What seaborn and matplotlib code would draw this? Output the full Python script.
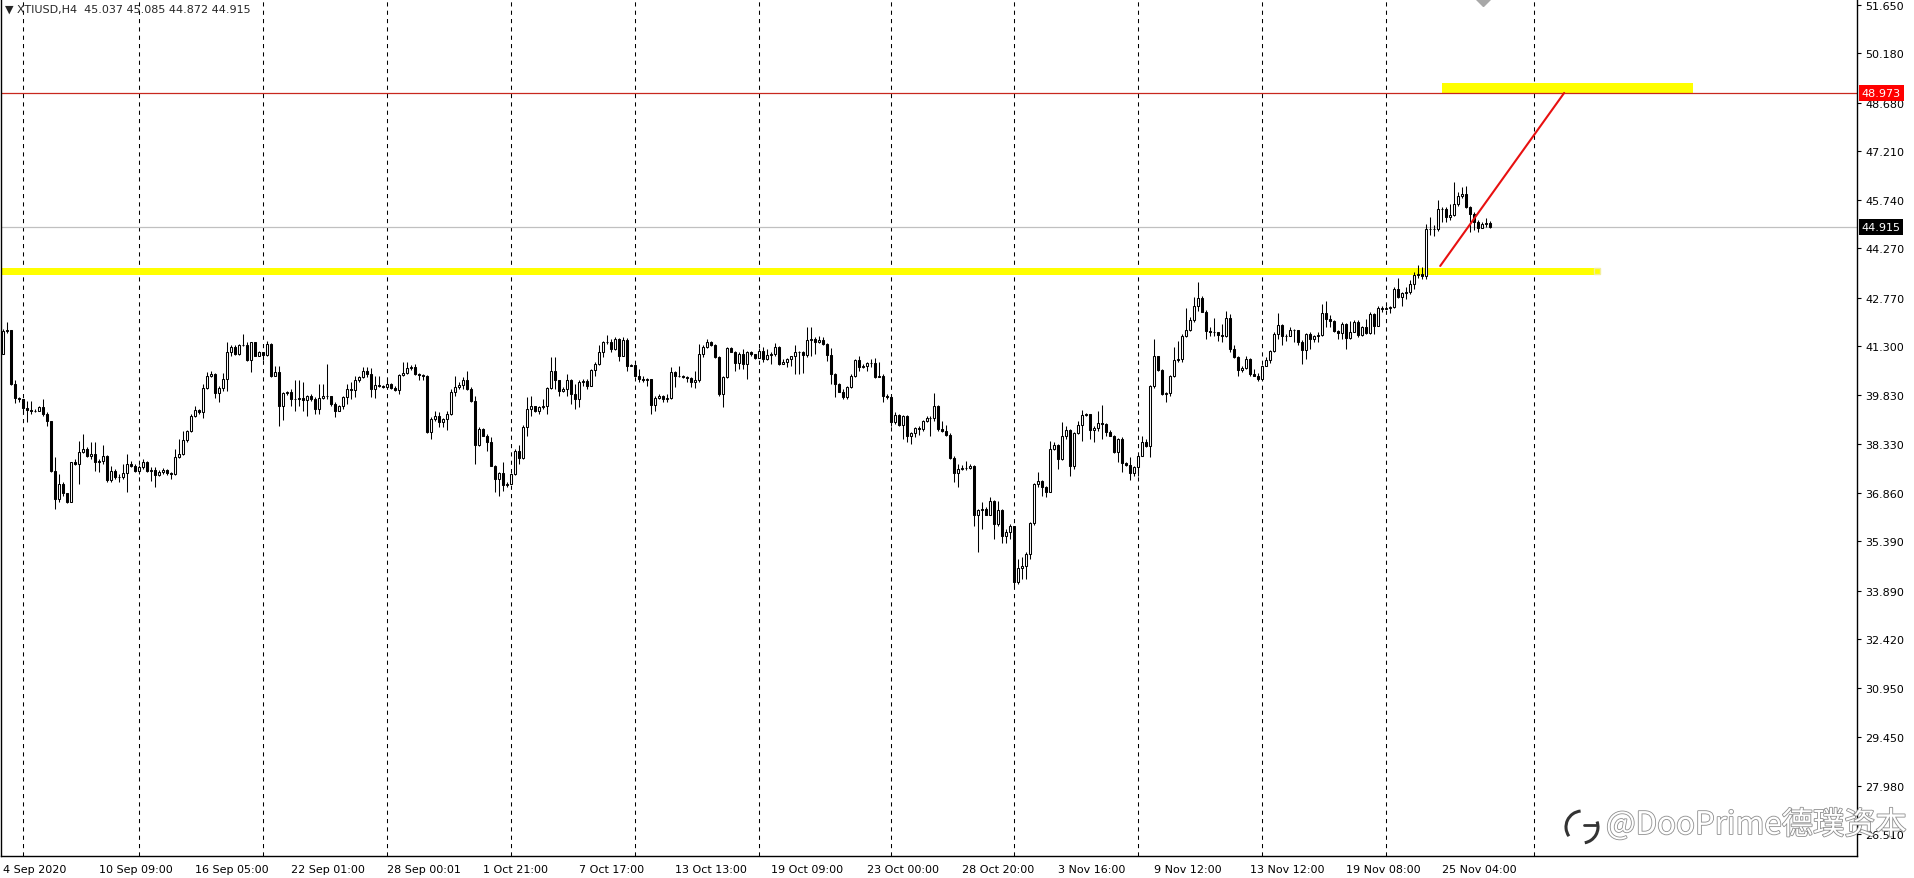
import numpy as np
import pandas as pd
import matplotlib
matplotlib.use('Agg')
import matplotlib.pyplot as plt
import matplotlib.patheffects as pe
import matplotlib.transforms as mtransforms
from matplotlib.patches import Arc
import seaborn as sns

# --- values (XTIUSD, H4) ---
symbol_title = '\u25bc XTIUSD,H4  45.037 45.085 44.872 44.915'
open_first = 41.06

close = [
    41.77, 41.79, 40.15, 39.72, 39.70, 39.43, 39.37, 39.35, 39.33, 39.45,
    39.25, 39.04, 37.53, 36.67, 37.12, 36.84, 36.59, 37.78, 37.73, 38.08,
    38.18, 37.98, 38.02, 37.78, 37.83, 37.98, 37.25, 37.53, 37.35, 37.33,
    37.46, 37.73, 37.68, 37.53, 37.63, 37.80, 37.53, 37.55, 37.41, 37.50,
    37.56, 37.46, 37.43, 37.93, 38.03, 38.46, 38.74, 39.19, 39.37, 39.30,
    40.02, 40.41, 40.46, 39.88, 40.02, 40.31, 41.11, 41.27, 41.06, 41.35,
    41.34, 40.89, 41.42, 41.01, 41.13, 41.03, 41.37, 40.41, 40.51, 39.50,
    39.87, 39.92, 39.70, 39.70, 39.72, 39.68, 39.78, 39.70, 39.40, 39.72,
    39.80, 39.80, 39.55, 39.35, 39.48, 39.75, 40.00, 39.98, 40.26, 40.36,
    40.56, 40.46, 40.00, 40.12, 40.10, 40.07, 40.15, 40.02, 39.98, 40.43,
    40.49, 40.63, 40.66, 40.46, 40.43, 40.39, 38.69, 39.09, 39.19, 39.01,
    39.09, 39.24, 39.90, 40.05, 40.12, 40.28, 40.00, 39.65, 38.29, 38.79,
    38.59, 38.41, 37.68, 37.28, 37.46, 37.09, 37.11, 37.43, 38.13, 37.90,
    38.86, 39.40, 39.48, 39.33, 39.45, 39.48, 40.02, 40.54, 40.26, 39.95,
    40.00, 40.26, 39.85, 39.70, 40.22, 40.25, 40.10, 40.58, 40.76, 41.11,
    41.42, 41.44, 41.21, 41.52, 41.01, 41.50, 40.71, 40.72, 40.41, 40.31,
    40.26, 40.29, 39.52, 39.73, 39.80, 39.70, 39.72, 40.51, 40.41, 40.40,
    40.36, 40.34, 40.22, 40.28, 41.06, 41.27, 41.44, 41.32, 40.96, 39.85,
    40.36, 41.24, 41.13, 40.78, 41.06, 40.76, 41.11, 41.06, 40.94, 41.16,
    40.91, 41.03, 41.06, 41.27, 40.76, 40.83, 40.91, 40.99, 41.13, 41.11,
    41.03, 41.50, 41.52, 41.42, 41.50, 41.37, 41.03, 40.46, 40.15, 39.92,
    39.75, 40.05, 40.41, 40.88, 40.66, 40.69, 40.78, 40.79, 40.36, 40.41,
    39.78, 39.75, 38.99, 39.21, 38.91, 39.19, 38.59, 38.67, 38.81, 38.79,
    39.02, 39.11, 39.13, 39.48, 38.79, 38.72, 38.61, 37.90, 37.46, 37.58,
    37.61, 37.60, 37.68, 36.19, 36.32, 36.37, 36.19, 36.62, 35.91, 36.32,
    35.56, 35.68, 35.86, 34.15, 34.57, 34.63, 35.00, 35.94, 37.13, 37.20,
    37.02, 36.89, 38.17, 38.31, 37.88, 38.57, 38.77, 37.68, 38.67, 38.91,
    39.20, 39.23, 38.77, 38.81, 38.97, 38.94, 38.71, 38.59, 38.09, 38.49,
    37.76, 37.70, 37.46, 37.63, 37.98, 38.39, 38.27, 40.09, 40.99, 40.59,
    39.85, 39.88, 40.39, 40.89, 40.91, 41.60, 41.80, 42.08, 42.53, 42.75,
    42.35, 41.77, 41.74, 41.72, 41.64, 41.62, 42.15, 41.22, 40.96, 40.59,
    40.63, 40.91, 40.46, 40.41, 40.31, 40.71, 40.89, 41.14, 41.67, 41.94,
    41.62, 41.60, 41.80, 41.78, 41.44, 41.17, 41.67, 41.52, 41.62, 41.64,
    42.31, 42.12, 42.05, 41.77, 41.70, 41.97, 41.54, 41.74, 42.03, 41.64,
    41.87, 41.70, 42.28, 41.92, 42.45, 42.43, 42.47, 42.49, 43.04, 42.78,
    42.91, 42.93, 43.19, 43.46, 43.48, 43.44, 44.86, 44.84, 44.85, 45.46,
    45.46, 45.21, 45.26, 45.61, 45.86, 45.92, 45.51, 45.31, 45.06, 44.87,
    45.00, 45.037, 44.915,
]

high = [
    41.82, 42.02, 41.79, 40.28, 39.75, 39.60, 39.65, 39.65, 39.40, 39.50,
    39.70, 39.30, 39.04, 37.93, 37.43, 37.19, 36.84, 37.80, 37.88, 38.44,
    38.64, 38.23, 38.39, 38.39, 37.88, 38.29, 38.00, 37.68, 37.58, 37.43,
    37.73, 38.03, 37.83, 37.73, 37.70, 37.88, 37.83, 37.63, 37.63, 37.56,
    37.60, 37.58, 37.50, 38.18, 38.49, 38.74, 38.77, 39.24, 39.48, 39.40,
    40.15, 40.51, 40.56, 40.49, 40.08, 40.49, 41.44, 41.32, 41.32, 41.37,
    41.67, 41.42, 41.44, 41.44, 41.16, 41.11, 41.47, 41.40, 40.71, 40.71,
    39.92, 39.95, 40.00, 40.26, 40.26, 40.20, 39.82, 39.85, 39.75, 40.15,
    40.15, 40.76, 39.80, 39.62, 39.52, 39.80, 40.15, 40.20, 40.39, 40.41,
    40.66, 40.66, 40.64, 40.39, 40.39, 40.12, 40.33, 40.18, 40.08, 40.46,
    40.83, 40.83, 40.73, 40.76, 40.49, 40.45, 40.43, 39.14, 39.33, 39.30,
    39.11, 39.35, 40.00, 40.41, 40.20, 40.36, 40.56, 40.05, 39.80, 38.84,
    38.81, 38.64, 38.54, 37.70, 37.50, 37.78, 37.19, 37.46, 38.18, 38.31,
    38.91, 39.75, 39.80, 39.50, 39.50, 39.70, 40.05, 40.96, 40.96, 40.28,
    40.05, 40.46, 40.31, 40.15, 40.26, 40.31, 40.31, 40.61, 40.81, 41.32,
    41.47, 41.64, 41.52, 41.57, 41.54, 41.57, 41.54, 40.75, 40.59, 40.61,
    40.39, 40.33, 40.31, 39.80, 39.85, 39.83, 39.85, 40.66, 40.56, 40.71,
    40.43, 40.39, 40.36, 40.56, 41.37, 41.32, 41.52, 41.47, 41.37, 40.99,
    40.41, 41.27, 41.27, 41.16, 41.11, 41.21, 41.16, 41.16, 40.99, 41.24,
    41.27, 41.21, 41.11, 41.40, 41.30, 40.91, 40.93, 41.01, 41.32, 41.16,
    41.16, 41.87, 41.87, 41.57, 41.60, 41.57, 41.40, 41.24, 40.49, 40.18,
    40.00, 40.08, 40.46, 40.91, 41.01, 40.76, 40.81, 40.91, 40.93, 40.83,
    40.46, 39.85, 39.80, 39.30, 39.24, 39.21, 39.21, 38.71, 38.84, 38.89,
    39.07, 39.19, 39.17, 39.87, 39.52, 39.04, 38.91, 38.67, 37.98, 37.73,
    37.70, 37.83, 37.73, 37.70, 36.37, 36.57, 36.42, 36.72, 36.65, 36.62,
    36.37, 35.76, 35.91, 35.06, 34.85, 34.90, 35.06, 35.96, 37.16, 37.48,
    37.23, 37.07, 38.44, 38.41, 38.34, 39.01, 38.87, 38.79, 38.71, 39.04,
    39.38, 39.28, 39.22, 38.87, 39.32, 39.52, 38.97, 38.77, 38.61, 38.51,
    38.54, 37.78, 37.93, 37.66, 38.00, 38.59, 38.49, 40.11, 41.52, 41.01,
    40.61, 39.90, 40.43, 41.27, 41.47, 41.67, 42.45, 42.18, 42.78, 43.24,
    42.83, 42.41, 41.87, 42.15, 41.74, 41.97, 42.38, 42.28, 41.32, 41.01,
    40.71, 41.01, 40.93, 40.61, 40.49, 40.73, 40.96, 41.17, 41.74, 42.31,
    41.97, 41.67, 41.87, 41.83, 41.80, 41.50, 41.70, 41.72, 41.64, 41.72,
    42.58, 42.68, 42.23, 42.08, 41.80, 42.03, 42.00, 42.05, 42.08, 42.08,
    41.92, 42.13, 42.33, 42.31, 42.51, 42.51, 42.53, 42.53, 43.09, 43.36,
    42.95, 43.09, 43.29, 43.54, 43.76, 43.69, 45.01, 45.21, 44.96, 45.74,
    45.51, 45.51, 45.61, 46.27, 45.96, 46.12, 46.15, 45.56, 45.38, 45.11,
    45.06, 45.18, 45.085,
]

low = [
    41.06, 41.69, 40.12, 39.58, 39.62, 39.25, 39.01, 39.25, 39.30, 39.33,
    39.19, 38.89, 37.48, 36.37, 36.57, 36.77, 36.55, 36.57, 37.71, 37.12,
    38.06, 37.93, 37.88, 37.53, 37.48, 37.73, 37.17, 37.17, 37.28, 37.19,
    37.28, 36.89, 37.63, 37.48, 37.43, 37.58, 37.48, 37.22, 37.02, 37.38,
    37.43, 37.40, 37.28, 37.40, 37.90, 38.00, 38.41, 38.71, 39.14, 39.25,
    39.11, 40.00, 40.36, 39.72, 39.62, 39.95, 39.95, 40.99, 41.03, 41.03,
    41.30, 40.86, 40.51, 40.99, 40.99, 40.89, 40.99, 40.36, 40.39, 38.89,
    39.07, 39.82, 39.50, 39.35, 39.48, 39.35, 39.19, 39.65, 39.25, 39.25,
    39.70, 39.70, 39.50, 39.14, 39.35, 39.40, 39.55, 39.70, 39.75, 40.20,
    40.33, 40.36, 39.75, 39.72, 40.07, 40.04, 40.12, 40.00, 39.95, 39.85,
    40.39, 40.46, 40.59, 40.43, 40.26, 40.26, 38.67, 38.49, 39.04, 38.84,
    38.84, 38.77, 39.21, 39.80, 40.00, 40.00, 39.98, 39.60, 37.73, 38.27,
    38.57, 38.13, 37.66, 36.89, 36.77, 36.92, 37.02, 37.30, 37.40, 37.73,
    37.88, 38.59, 39.19, 39.30, 39.25, 39.40, 39.25, 40.00, 40.00, 39.80,
    39.90, 39.80, 39.55, 39.40, 39.45, 40.10, 40.00, 40.08, 40.41, 40.73,
    40.96, 41.37, 41.11, 41.19, 40.86, 40.99, 40.56, 40.69, 40.39, 40.20,
    40.22, 40.10, 39.25, 39.35, 39.70, 39.60, 39.60, 39.70, 40.05, 40.36,
    40.33, 40.22, 40.05, 40.02, 40.22, 40.96, 41.24, 41.30, 40.93, 39.80,
    39.45, 40.33, 41.11, 40.56, 40.61, 40.61, 40.31, 40.99, 40.91, 41.11,
    40.83, 40.89, 40.76, 41.01, 40.73, 40.76, 40.66, 40.71, 40.46, 40.46,
    40.49, 40.96, 41.01, 41.06, 41.40, 41.34, 40.86, 40.15, 39.77, 39.90,
    39.70, 39.70, 40.02, 40.36, 40.56, 40.64, 40.56, 40.66, 40.33, 40.36,
    39.60, 39.70, 38.89, 38.94, 38.89, 38.49, 38.41, 38.32, 38.54, 38.61,
    38.74, 38.99, 38.57, 39.04, 38.74, 38.69, 38.59, 37.88, 37.19, 37.02,
    37.56, 37.56, 37.58, 35.86, 35.06, 35.76, 36.17, 36.17, 35.46, 35.86,
    35.34, 35.34, 35.46, 33.99, 34.10, 34.25, 34.25, 34.85, 35.88, 37.02,
    36.77, 36.72, 36.87, 38.14, 37.58, 37.86, 38.49, 37.38, 37.58, 38.64,
    38.44, 39.18, 38.49, 38.41, 38.74, 38.49, 38.59, 38.57, 38.07, 37.80,
    37.48, 37.66, 37.23, 37.36, 37.36, 37.96, 38.24, 37.93, 40.03, 40.56,
    39.82, 39.60, 39.80, 40.36, 40.83, 40.83, 41.57, 41.77, 42.02, 42.38,
    42.33, 41.52, 41.62, 41.62, 41.47, 41.42, 41.57, 41.12, 40.93, 40.39,
    40.53, 40.61, 40.41, 40.39, 40.23, 40.26, 40.69, 40.79, 41.12, 41.52,
    41.32, 41.47, 41.61, 41.42, 41.32, 40.77, 40.92, 41.22, 41.44, 41.42,
    41.60, 41.87, 41.87, 41.72, 41.52, 41.52, 41.22, 41.52, 41.72, 41.57,
    41.62, 41.67, 41.67, 41.67, 41.90, 42.33, 42.43, 42.31, 42.45, 42.75,
    42.53, 42.73, 42.88, 43.04, 43.36, 43.34, 43.34, 44.67, 44.65, 44.80,
    45.06, 45.06, 45.11, 45.24, 45.56, 45.78, 45.48, 44.77, 44.83, 44.75,
    44.90, 44.90, 44.872,
]

# first bar of each trading week (chart grid separators)
week_start_bars = [5, 34, 65, 96, 127, 158, 189, 222, 253, 284, 315, 346, 383]

time_labels = ['4 Sep 2020', '10 Sep 09:00', '16 Sep 05:00', '22 Sep 01:00',
               '28 Sep 00:01', '1 Oct 21:00', '7 Oct 17:00', '13 Oct 13:00',
               '19 Oct 09:00', '23 Oct 00:00', '28 Oct 20:00', '3 Nov 16:00',
               '9 Nov 12:00', '13 Nov 12:00', '19 Nov 08:00', '25 Nov 04:00']
bars_per_label = 24

price_ticks = [51.650, 50.180, 48.680, 47.210, 45.740, 44.270, 42.770, 41.300,
               39.830, 38.330, 36.860, 35.390, 33.890, 32.420, 30.950, 29.450,
               27.980, 26.510]

bid_price = 44.915
target_price = 48.973
support_zone = (43.46, 43.67)
support_zone_bars = (-0.5, 399.5)
target_zone = (48.973, 49.276)
target_zone_bars = (360, 422.75)
trend_bars = [359.5, 390.5]
trend_prices = [43.73, 48.973]
shift_marker_bar = 370.25
watermark = '@DooPrime德璞资本'

assert len(close) == len(high) == len(low)

# --- frame ---
sns.set_style('white')
plt.rcParams['font.family'] = ['DejaVu Sans']

df = pd.DataFrame({'close': close, 'high': high, 'low': low})
df['bar'] = np.arange(len(df))
df['open'] = df['close'].shift(1).fillna(open_first)
df['high'] = df[['high', 'open', 'close']].max(axis=1)
df['low'] = df[['low', 'open', 'close']].min(axis=1)
df['up'] = df['close'] >= df['open']

W, H = 1914, 879
fig = plt.figure(figsize=(W / 100, H / 100), dpi=100)
ax = fig.add_axes([1 / W, 22 / H, 1856 / W, 857 / H])

# weekly separators
for b in week_start_bars:
    ax.axvline(b, color='black', linewidth=0.75, linestyle=(0, (4, 4)), zorder=1)

# yellow zones
ax.fill_between(support_zone_bars, support_zone[0], support_zone[1],
                color='#ffff00', linewidth=0, zorder=1.5)
ax.fill_between(target_zone_bars, target_zone[0], target_zone[1],
                color='#ffff00', linewidth=0, zorder=1.5)
ax.plot(support_zone_bars[1] - 0.8, sum(support_zone) / 2, marker='s', markersize=4,
        markerfacecolor='none', markeredgecolor='#f3ee9a', zorder=1.6)

# bid / target lines
ax.axhline(bid_price, color='#c0c0c0', linewidth=0.9, zorder=1.2)
ax.axhline(target_price, color='#c8281e', linewidth=0.9, zorder=1.7)

# candles
ax.vlines(df['bar'], df['low'], df['high'], color='black', linewidth=0.75, zorder=3)
body_bottom = df[['open', 'close']].min(axis=1)
body_height = (df['close'] - df['open']).abs()
ax.bar(df['bar'], body_height, bottom=body_bottom, width=0.5,
       color=np.where(df['up'], 'white', 'black'), edgecolor='black',
       linewidth=0.75, zorder=4)

# trend line
sns.lineplot(x=trend_bars, y=trend_prices, ax=ax, color='#e81010', linewidth=1.5, zorder=5)

ax.set_xlim(-0.5, 463.75)
ax.set_ylim(25.85, 51.82)

# shift marker at the top
ax.plot(shift_marker_bar, 51.82, marker='D', markersize=7, color='#a8a8a8',
        clip_on=False, zorder=6)

# axes
ax.yaxis.tick_right()
ax.set_yticks(price_ticks)
ax.set_yticklabels([f'{p:.3f}' for p in price_ticks], fontsize=8)
ax.tick_params(axis='y', direction='out', length=3, width=0.8, pad=3, colors='black')
ax.set_xticks(np.arange(len(time_labels)) * bars_per_label)
ax.set_xticklabels(time_labels, fontsize=8, ha='left')
ax.tick_params(axis='x', direction='out', length=3, width=0.8, pad=3, colors='black')
ax.set_xlabel('')
ax.set_ylabel('')
for side in ['left', 'right', 'bottom']:
    ax.spines[side].set_visible(True)
    ax.spines[side].set_color('black')
    ax.spines[side].set_linewidth(1.0)
ax.spines['top'].set_visible(False)
ax.grid(False)

# price boxes on the axis, centred on their lines
trans = mtransforms.blended_transform_factory(ax.transAxes, ax.transData)
ax.text(1.0025, target_price, f'{target_price:.3f}', transform=trans, ha='left', va='center',
        fontsize=8, color='white', zorder=7, clip_on=False,
        bbox=dict(boxstyle='square,pad=0.25', fc='#ff0000', ec='none'))
ax.text(1.0025, bid_price, f'{bid_price:.3f}', transform=trans, ha='left', va='center',
        fontsize=8, color='white', zorder=7, clip_on=False,
        bbox=dict(boxstyle='square,pad=0.25', fc='black', ec='none'))

# title
fig.text(5 / W, 1 - 10 / H, symbol_title, fontsize=8, va='center', ha='left')

# watermark
fig.text(1606 / W, 44 / H, watermark, fontsize=22.5, va='baseline', ha='left',
         family=['Noto Sans CJK SC', 'DejaVu Sans'], color='white',
         path_effects=[pe.withStroke(linewidth=1.2, foreground='#8f8f8f')])
fig.add_artist(Arc((1582, 51), 32, 32, theta1=95, theta2=215, transform=None,
                   color='#333333', linewidth=2.2))
fig.add_artist(Arc((1582, 51), 32, 32, theta1=280, theta2=20, transform=None,
                   color='#333333', linewidth=2.2))
fig.add_artist(plt.Line2D([1584, 1596], [53, 53], transform=None, color='#333333',
                          linewidth=2.0))

fig.savefig('out.png', dpi=100, facecolor='white')
